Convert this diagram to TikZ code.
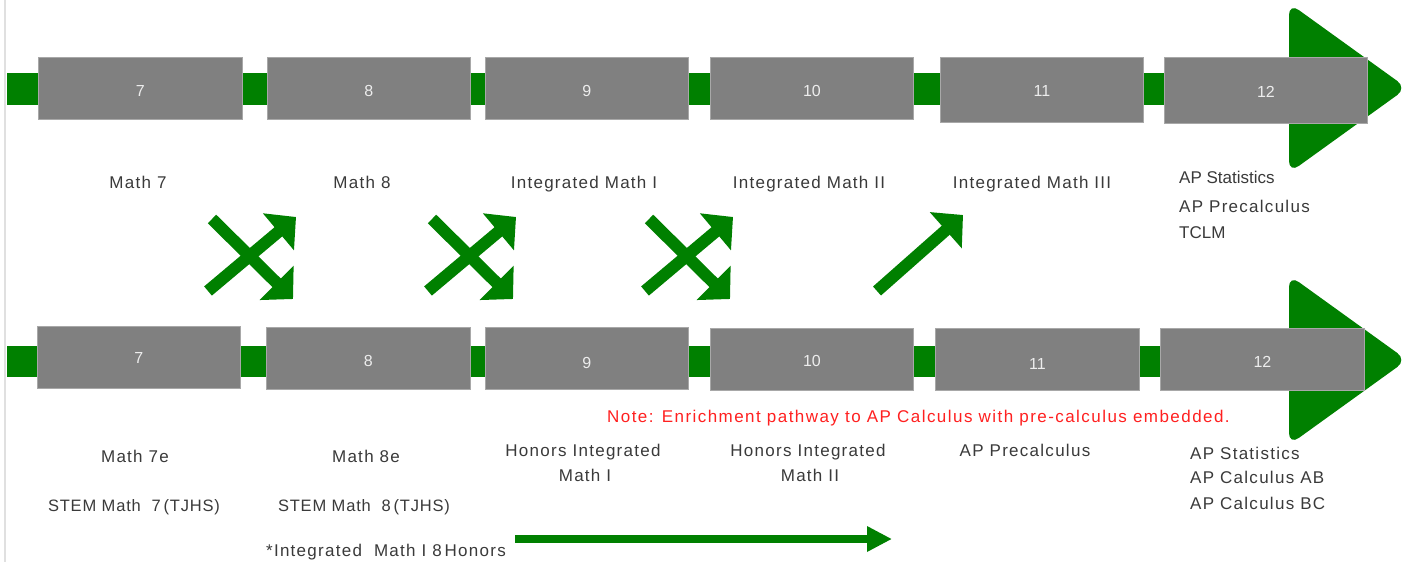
\documentclass[tikz,border=0pt]{standalone}
\usepackage{fontspec}
\setmainfont{Liberation Sans}
\newfontfamily\spacedfont[LetterSpace=7.5]{Liberation Sans}
\newfontfamily\lightspaced[LetterSpace=5]{Liberation Sans}
\newfontfamily\notefont[LetterSpace=8.5]{Liberation Sans}
\usetikzlibrary{arrows.meta}
\definecolor{pg}{HTML}{008000}
\definecolor{bx}{HTML}{808080}
\definecolor{bxline}{HTML}{A8A8A8}
\definecolor{txt}{HTML}{3A3A3A}
\definecolor{note}{HTML}{FF2020}
\begin{document}
\begin{tikzpicture}[x=1pt,y=-1pt,
  grade/.style={draw=bxline, fill=bx, line width=0.8pt, inner sep=0pt, anchor=north west},
  num/.style={text=white!93!black, font=\fontsize{16}{19}\selectfont},
  lab/.style={text=txt, font=\spacedfont\fontsize{17}{20}\selectfont, inner sep=0pt, anchor=base},
  labs/.style={lab, font=\lightspaced\fontsize{16.5}{20}\selectfont},
  labl/.style={lab, anchor=base west},
  labp/.style={lab, font=\fontsize{17}{20}\selectfont, anchor=base west},
  notetxt/.style={text=note, font=\notefont\fontsize{17}{20}\selectfont, inner sep=0pt, anchor=base west},
  bigarrow/.style={pg, line width=12pt, -{Triangle[width=47pt,length=23pt]}},
  lowarrow/.style={pg, line width=8pt, -{Triangle[width=24pt,length=25pt]}},
  bar/.style={fill=pg},
  head/.style={fill=pg, rounded corners=12pt}
]
\useasboundingbox (0,0) rectangle (1408,562);
\fill[white] (0,0) rectangle (1408,562);
\draw[line width=2pt, color=black!12] (5,0) -- (5,562);

% ---------- top row ----------
\fill[bar] (7,73) rectangle (1300,105);
\fill[head] (1289,3) -- (1407,88) -- (1289,173) -- cycle;
\node[grade, minimum width=204pt, minimum height=62pt] (t7)  at (38,57)   {};
\node[grade, minimum width=203pt, minimum height=62pt] (t8)  at (267,57)  {};
\node[grade, minimum width=203pt, minimum height=62pt] (t9)  at (485,57)  {};
\node[grade, minimum width=203pt, minimum height=62pt] (t10) at (710,57)  {};
\node[grade, minimum width=203pt, minimum height=65pt] (t11) at (940,57)  {};
\node[grade, minimum width=203pt, minimum height=66pt] (t12) at (1164,57) {};
\node[num] (n7)  at ([yshift=-3pt]t7.center)  {7};
\node[num] (n8)  at ([yshift=-3pt]t8.center)  {8};
\node[num] (n9)  at ([yshift=-3pt]t9.center)  {9};
\node[num] (n10) at ([yshift=-3pt]t10.center) {10};
\node[num] (n11) at ([yshift=-1pt]t11.center) {11};
\node[num] (n12) at ([yshift=-2pt]t12.center) {12};

\node[lab] (lt7)  at (138,188)  {Math 7};
\node[lab] (lt8)  at (362,188)  {Math 8};
\node[lab] (lt9)  at (584,188)  {Integrated Math I};
\node[lab] (lt10) at (809,188)  {Integrated Math II};
\node[lab] (lt11) at (1032,188) {Integrated Math III};
\node[labp] (lt12a) at (1179,183) {AP Statistics};
\node[labl] (lt12b) at (1179,212) {AP Precalculus};
\node[labp] (lt12c) at (1179,238) {TCLM};

% ---------- cross arrows ----------
\foreach \ox [count=\i] in {203,423,640}{
  \coordinate (a\i s) at (\ox+9,219);
  \coordinate (a\i e) at (\ox+90,299);
  \coordinate (b\i s) at (\ox+5,291);
  \coordinate (b\i e) at (\ox+93,217);
  \draw[bigarrow] (a\i s) -- (a\i e);
  \draw[bigarrow] (b\i s) -- (b\i e);
}
\coordinate (ss) at (877,291);
\coordinate (se) at (963,215);
\draw[bigarrow] (ss) -- (se);

% ---------- bottom row ----------
\fill[bar] (7,346) rectangle (1300,377);
\fill[head] (1289,275) -- (1407,360) -- (1289,445) -- cycle;
\node[grade, minimum width=203pt, minimum height=62pt] (b7)  at (37,326)   {};
\node[grade, minimum width=204pt, minimum height=62pt] (b8)  at (266,327)  {};
\node[grade, minimum width=203pt, minimum height=62pt] (b9)  at (485,327)  {};
\node[grade, minimum width=203pt, minimum height=62pt] (b10) at (710,328)  {};
\node[grade, minimum width=204pt, minimum height=62pt] (b11) at (935,328)  {};
\node[grade, minimum width=204pt, minimum height=62pt] (b12) at (1160,328) {};
\node[num] (m7)  at ([yshift=-1pt]b7.center)  {7};
\node[num] (m8)  at ([yshift=-3pt]b8.center)  {8};
\node[num] (m9)  at ([yshift=-5pt]b9.center)  {9};
\node[num] (m10) at ([yshift=-2pt]b10.center) {10};
\node[num] (m11) at ([yshift=-5pt]b11.center) {11};
\node[num] (m12) at ([yshift=-3pt]b12.center) {12};

\node[notetxt] (note) at (607,422) {Note: Enrichment pathway to AP Calculus with pre-calculus embedded.};

\node[lab] (lb7a) at (135,462) {Math 7e};
\node[labs] (lb7b) at (134,511) {STEM Math\ \ 7\,(TJHS)};
\node[lab] (lb8a) at (366,462) {Math 8e};
\node[labs] (lb8b) at (364,511) {STEM Math\ \ 8\,(TJHS)};
\node[lab] (lb8c) at (386,556) {*Integrated\ \ Math I 8\,Honors};
\node[lab] (lb9a) at (583,456) {Honors Integrated};
\node[lab] (lb9b) at (585,481) {Math I};
\node[lab] (lb10a) at (808,456) {Honors Integrated};
\node[lab] (lb10b) at (810,481) {Math II};
\node[lab] (lb11) at (1025,456) {AP Precalculus};
\node[labl] (lb12a) at (1190,459) {AP Statistics};
\node[labl] (lb12b) at (1190,483) {AP Calculus AB};
\node[labl] (lb12c) at (1190,509) {AP Calculus BC};

\coordinate (ls) at (515,539);
\coordinate (le) at (892,539);
\draw[lowarrow] (ls) -- (le);
\end{tikzpicture}
\end{document}
